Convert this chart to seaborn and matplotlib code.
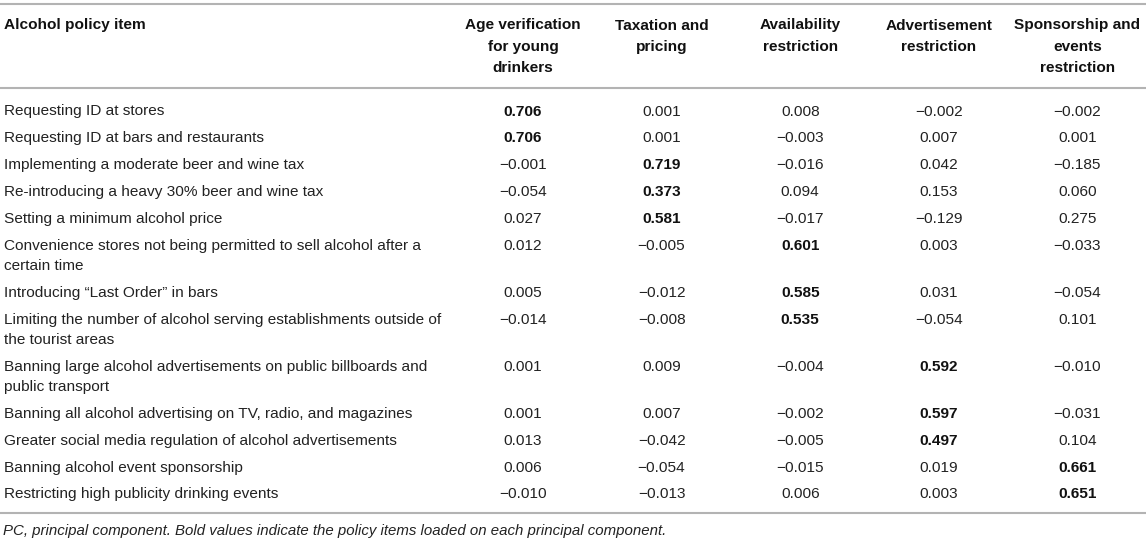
import pandas as pd
import seaborn as sns
import matplotlib.pyplot as plt

# table content
items = [
    "Requesting ID at stores",
    "Requesting ID at bars and restaurants",
    "Implementing a moderate beer and wine tax",
    "Re-introducing a heavy 30% beer and wine tax",
    "Setting a minimum alcohol price",
    "Convenience stores not being permitted to sell alcohol after a\ncertain time",
    "Introducing \u201cLast Order\u201d in bars",
    "Limiting the number of alcohol serving establishments outside of\nthe tourist areas",
    "Banning large alcohol advertisements on public billboards and\npublic transport",
    "Banning all alcohol advertising on TV, radio, and magazines",
    "Greater social media regulation of alcohol advertisements",
    "Banning alcohol event sponsorship",
    "Restricting high publicity drinking events",
]
components = [
    "Age verification\nfor young\ndrinkers",
    "Taxation and\npricing",
    "Availability\nrestriction",
    "Advertisement\nrestriction",
    "Sponsorship and\nevents\nrestriction",
]
age = [0.706, 0.706, -0.001, -0.054, 0.027, 0.012, 0.005, -0.014, 0.001, 0.001, 0.013, 0.006, -0.010]
tax = [0.001, 0.001, 0.719, 0.373, 0.581, -0.005, -0.012, -0.008, 0.009, 0.007, -0.042, -0.054, -0.013]
avail = [0.008, -0.003, -0.016, 0.094, -0.017, 0.601, 0.585, 0.535, -0.004, -0.002, -0.005, -0.015, 0.006]
advert = [-0.002, 0.007, 0.042, 0.153, -0.129, 0.003, 0.031, -0.054, 0.592, 0.597, 0.497, 0.019, 0.003]
sponsor = [-0.002, 0.001, -0.185, 0.060, 0.275, -0.033, -0.054, 0.101, -0.010, -0.031, 0.104, 0.661, 0.651]
loaded_on = [0, 0, 1, 1, 1, 2, 2, 2, 3, 3, 3, 4, 4]  # bold cell per row
first_header = "Alcohol policy item"
footnote = "PC, principal component. Bold values indicate the policy items loaded on each principal component."

data = pd.DataFrame({"item": items, "c0": age, "c1": tax, "c2": avail, "c3": advert, "c4": sponsor,
                     "loaded": loaded_on})

sns.set_theme(style="white")
plt.rcParams['font.family'] = ['Liberation Sans', 'DejaVu Sans']

W, H = 1146, 541
fig = plt.figure(figsize=(W / 100, H / 100), dpi=100)
ax = fig.add_axes([0, 0, 1, 1])
ax.set_xlim(0, W)
ax.set_ylim(H, 0)
ax.axis("off")

fs = 11.1
txt = "#222222"
bold_c = "#111111"
rule_c = "#b3b3b3"
left_x = 4
col_x0, col_step = 523, 138.6
base_off = 5.5          # baseline below the cap centre
head_y, head_step = 24, 21.5
row_y, row_pitch, line_step = 110, 26.8, 20.4


def fmt(v):
    return f"{v:.3f}".replace("-", "\u2212")


# rules
for yy in (4, 88, 513):
    ax.axhline(yy, color=rule_c, lw=1.5)

# header
ax.text(left_x, head_y + base_off, first_header, fontsize=fs, fontweight="bold",
        color=bold_c, ha="left", va="baseline")
for j, comp in enumerate(components):
    for k, line in enumerate(comp.split("\n")):
        ax.text(col_x0 + j * col_step, head_y + k * head_step + base_off, line, fontsize=fs,
                fontweight="bold", color=bold_c, ha="center", va="baseline")

# body
y = row_y
for _, r in data.iterrows():
    lines = r["item"].split("\n")
    for k, line in enumerate(lines):
        ax.text(left_x, y + k * line_step + base_off, line, fontsize=fs, color=txt,
                ha="left", va="baseline")
    for j in range(5):
        b = j == r["loaded"]
        ax.text(col_x0 + j * col_step, y + base_off, fmt(r[f"c{j}"]), fontsize=fs,
                fontweight="bold" if b else "normal", color=bold_c if b else txt,
                ha="center", va="baseline")
    y += row_pitch + (len(lines) - 1) * line_step

ax.text(3, 530 + base_off, footnote, fontsize=fs * 0.97, style="italic", color=txt,
        ha="left", va="baseline")

fig.savefig("out.png", dpi=100, facecolor="white")
